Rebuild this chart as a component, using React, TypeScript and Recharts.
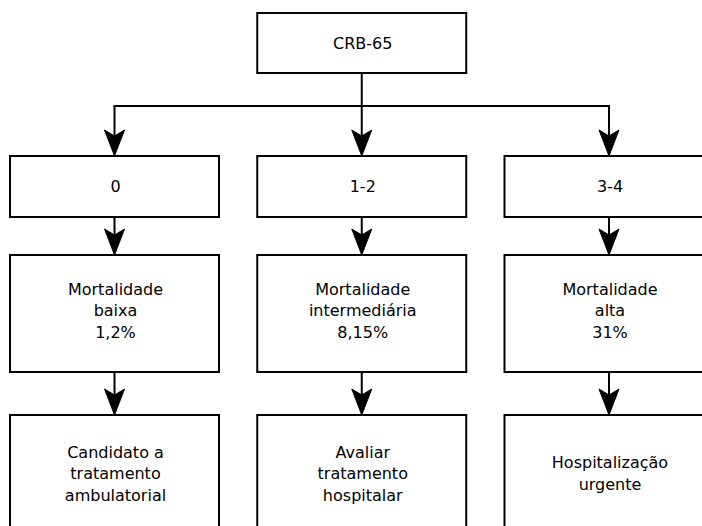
import React from "react";
import { ScatterChart, Scatter, XAxis, YAxis, ReferenceLine } from "recharts";

// ---- content ----
const rootLabel = ["CRB-65"];
const scoreLabels = ["0", "1-2", "3-4"];
const mortalityLabels = [
  ["Mortalidade", "baixa", "1,2%"],
  ["Mortalidade", "intermediária", "8,15%"],
  ["Mortalidade", "alta", "31%"],
];
const actionLabels = [
  ["Candidato a", "tratamento", "ambulatorial"],
  ["Avaliar", "tratamento", "hospitalar"],
  ["Hospitalização", "urgente"],
];

// ---- layout / style ----
const W = 702;
const H = 526;
const COL0 = 114.5;
const COL_STEP = 247.25;
const LEVEL_TOP = [13, 156, 255, 415];
const LEVEL_H = [60, 61, 117, 117];
const BUS_Y = 106;
const BOX_W = 209;
const LINE_H = 21.5;
const FONT = "'DejaVu Sans', sans-serif";
const FONT_SIZE = 16;
const ARROW_L = 26;
const ARROW_W = 10;
const TEXT_DY = [0, 0, -3, 0];

type Node = { col: number; level: number; lines: string[]; y: number };

const nodes: Node[] = [
  { col: 1, level: 0, lines: rootLabel },
  ...scoreLabels.map((s, i) => ({ col: i, level: 1, lines: [s] })),
  ...mortalityLabels.map((l, i) => ({ col: i, level: 2, lines: l })),
  ...actionLabels.map((l, i) => ({ col: i, level: 3, lines: l })),
].map((n) => ({ ...n, y: LEVEL_TOP[n.level] }));

const NodeShape = (props: any) => {
  const { cx, cy, payload } = props;
  const lvl: number = payload.level;
  const h = LEVEL_H[lvl];
  const lines: string[] = payload.lines;
  const midY = cy + h / 2 + TEXT_DY[lvl];
  let incoming: React.ReactNode = null;
  if (lvl > 0) {
    const fromY =
      lvl === 1 ? cy - (LEVEL_TOP[1] - BUS_Y) : cy - (LEVEL_TOP[lvl] - (LEVEL_TOP[lvl - 1] + LEVEL_H[lvl - 1]));
    incoming = (
      <g>
        <line x1={cx} y1={fromY} x2={cx} y2={cy - ARROW_L + 6} stroke="#000" strokeWidth={2} />
        <path
          d={`M${cx},${cy} L${cx - ARROW_W},${cy - ARROW_L} L${cx},${cy - ARROW_L + 6} L${cx + ARROW_W},${cy - ARROW_L} Z`}
          fill="#000"
          stroke="#000"
          strokeWidth={1}
          strokeLinejoin="miter"
        />
      </g>
    );
  }
  let stem: React.ReactNode = null;
  if (lvl === 0) {
    stem = <line x1={cx} y1={cy + h} x2={cx} y2={BUS_Y + (cy - LEVEL_TOP[0])} stroke="#000" strokeWidth={2} />;
  }
  return (
    <g>
      {incoming}
      {stem}
      <rect x={cx - BOX_W / 2} y={cy} width={BOX_W} height={h} fill="#fff" stroke="#000" strokeWidth={2} />
      <text
        x={cx}
        textAnchor="middle"
        fontFamily={FONT}
        fontSize={FONT_SIZE}
        fill="#000"
      >
        {lines.map((t, i) => (
          <tspan key={i} x={cx + 1} y={midY + (i - (lines.length - 1) / 2) * LINE_H} dominantBaseline="central">
            {t}
          </tspan>
        ))}
      </text>
    </g>
  );
};

export default function App() {
  return (
    <div style={{ position: "absolute", left: 0, top: 0, width: W, height: H, background: "#fff" }}>
      <ScatterChart width={W} height={H} margin={{ top: 0, right: 0, bottom: 0, left: 0 }}>
        <XAxis
          type="number"
          dataKey="col"
          hide
          domain={[-COL0 / COL_STEP, (W - COL0) / COL_STEP]}
          allowDataOverflow
        />
        <YAxis type="number" dataKey="y" hide reversed domain={[0, H]} width={0} allowDataOverflow />
        <ReferenceLine
          segment={[
            { x: 0, y: BUS_Y },
            { x: 2, y: BUS_Y },
          ]}
          stroke="#000"
          strokeWidth={2}
          strokeLinecap="square"
        />
        <Scatter data={nodes} shape={NodeShape} isAnimationActive={false} />
      </ScatterChart>
    </div>
  );
}
